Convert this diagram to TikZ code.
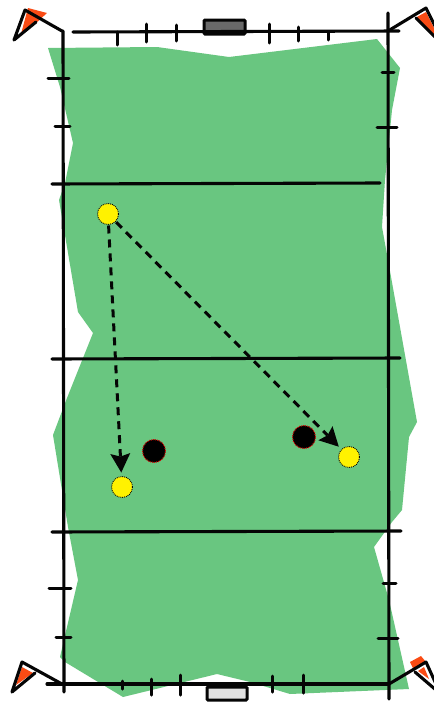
\documentclass[tikz,border=0pt]{standalone}
\usetikzlibrary{arrows.meta}
\definecolor{pitch}{RGB}{105,198,128}
\definecolor{flagor}{RGB}{250,75,20}
\definecolor{goalgray}{RGB}{105,105,105}
\definecolor{goallight}{RGB}{225,225,225}
\definecolor{ink}{RGB}{5,5,5}
\tikzset{
  courtline/.style={draw=ink,line width=3.1pt,line cap=round},
  tickmark/.style={draw=ink,line width=3pt,line cap=round},
  polebar/.style={draw=ink,line width=3.1pt,line join=round,line cap=round},
  attacker/.style={circle,fill=yellow,draw=ink,densely dotted,line width=0.9pt,minimum size=21pt,inner sep=0pt,outer sep=1pt},
  defender/.style={circle,fill=black,draw=red!85!black,densely dotted,line width=1pt,minimum size=23pt,inner sep=0pt},
  runline/.style={draw=ink,line width=3pt,dash pattern=on 8pt off 6pt,shorten >=3pt,-{Stealth[length=19pt,width=20pt,inset=3pt,line width=0pt,fill=ink]}},
  goalbox/.style={draw=ink,line width=3pt,rounded corners=1pt}
}
\begin{document}
\begin{tikzpicture}[x=1pt,y=-1pt]
\useasboundingbox (0,0) rectangle (434,702);
\clip (0,0) rectangle (434,702);
\fill[white] (0,0) rectangle (434,702);
% pitch
\fill[pitch] (48,48) -- (157,47) -- (229,57) -- (377,39) -- (400,68) -- (392,110) -- (385,180) -- (382,227) -- (388,260) -- (417,422) -- (409,437) -- (402,510) -- (392,522) -- (374,547) -- (389,600) -- (409,689) -- (290,694) -- (250,682) -- (217,674) -- (123,697) -- (65,662) -- (60,657) -- (67,627) -- (78,580) -- (68,527) -- (53,435) -- (67,398) -- (93,333) -- (78,312) -- (67,247) -- (59,200) -- (65,183) -- (73,143) -- (60,87) -- cycle;
% goals
\draw[goalbox,fill=goalgray] (204,20) rectangle (245,34);
\draw[goalbox,fill=goallight] (207,687) rectangle (247,700);
% court
\draw[courtline] (63,31) -- (64,692);
\draw[courtline] (388,13) -- (389,699);
\draw[courtline] (73,32) -- (399,31);
\draw[courtline] (47,684) -- (389,684);
\draw[courtline] (52,184) -- (380,183);
\draw[courtline] (52,359) -- (400,358);
\draw[courtline] (52,532) -- (401,531);
% ticks
\foreach \x/\a/\b in {117/32/45,146/24/42,176/25/41,269/24/43,298/27/41,328/32/40,122/681/689,151/679/695,180/675/695,272/676/692,303/675/693}
  \draw[tickmark] (\x,\a) -- (\x,\b);
\foreach \y/\a/\b in {78/48/69,126/55/70,588/49/71,637/56/71,72/382/394,127/377/397,583/383/396,638/378/398}
  \draw[tickmark] (\a,\y) -- (\b,\y);
% flags
\fill[flagor] (28,8) -- (47,13) -- (35,24) -- (21,34) -- cycle;
\fill[flagor] (415,18) -- (426,12) -- (434,28) -- (434,37) -- cycle;
\fill[flagor] (410,662) -- (421,656) -- (426,662) -- (413,668) -- cycle;
\fill[flagor] (418,671) -- (424,667) -- (429,679) -- cycle;
\fill[flagor] (22,667) -- (33,673) -- (16,685) -- cycle;
% corner flag frames
\draw[polebar] (62,31) -- (25,10) -- (14,40) -- (36,22);
\draw[polebar] (388,31) -- (426,8) -- (436,28);
\draw[polebar] (416,18) -- (436,38);
\draw[polebar] (389,684) -- (426,662) -- (436,684);
\draw[polebar] (415,672) -- (436,690);
\draw[polebar] (62,684) -- (22,662) -- (12,692) -- (35,673);
% players
\node[attacker] (a1) at (108,214) {};
\node[attacker] (a2) at (122,487) {};
\node[attacker] (a3) at (349,457) {};
\node[defender] (d1) at (154,451) {};
\node[defender] (d2) at (304,437) {};
\draw[runline] (a1) -- (a2);
\draw[runline] (a1) -- (a3);
\end{tikzpicture}
\end{document}
